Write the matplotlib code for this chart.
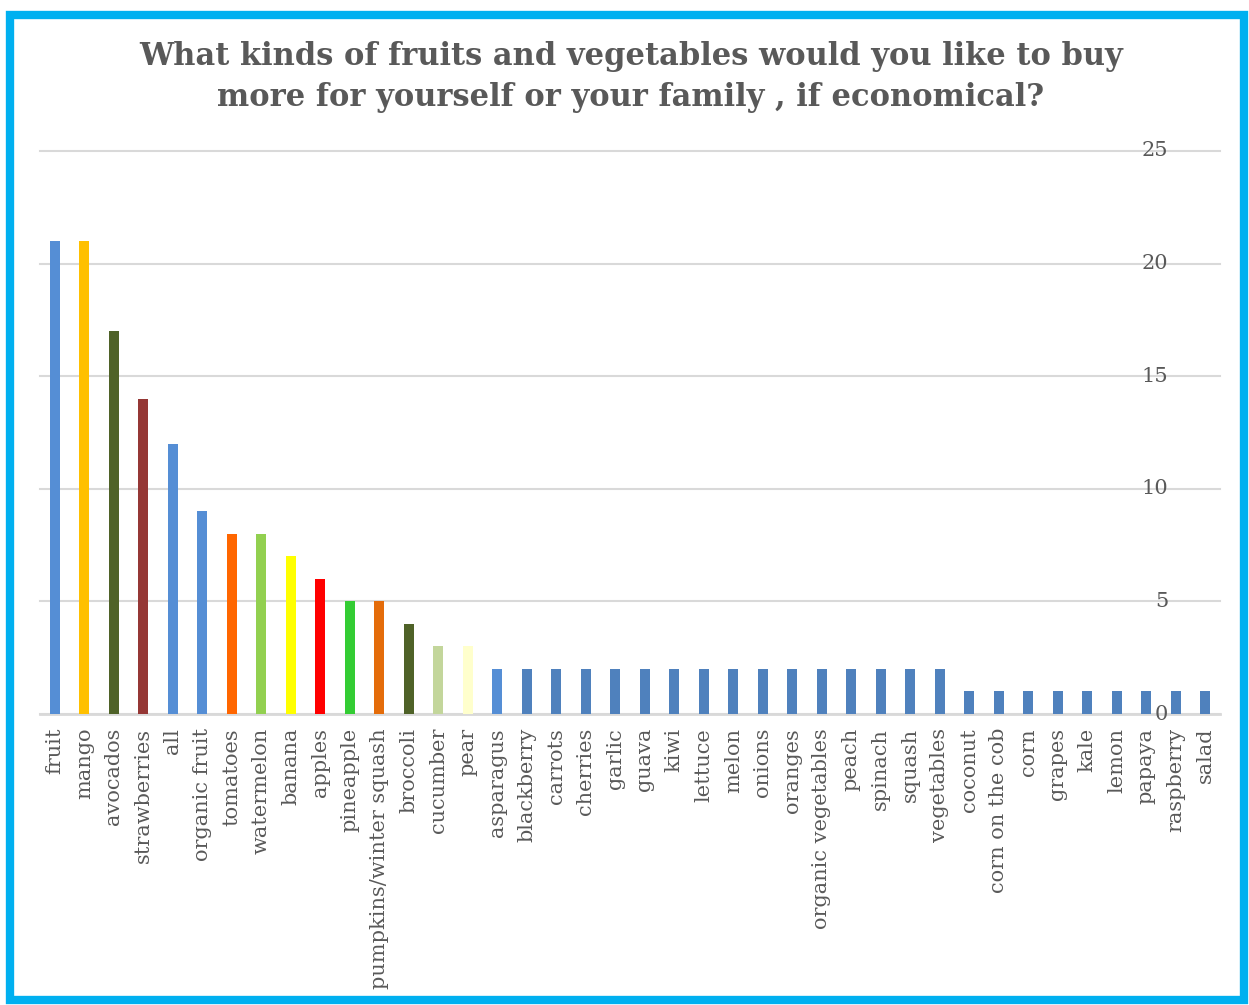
import matplotlib.pyplot as plt
from matplotlib.patches import Rectangle

items = ['fruit', 'mango', 'avocados', 'strawberries', 'all', 'organic fruit',
         'tomatoes', 'watermelon', 'banana', 'apples', 'pineapple',
         'pumpkins/winter squash', 'broccoli', 'cucumber', 'pear', 'asparagus',
         'blackberry', 'carrots', 'cherries', 'garlic', 'guava', 'kiwi',
         'lettuce', 'melon', 'onions', 'oranges', 'organic vegetables', 'peach',
         'spinach', 'squash', 'vegetables', 'coconut', 'corn on the cob', 'corn',
         'grapes', 'kale', 'lemon', 'papaya', 'raspberry', 'salad']
counts = [21, 21, 17, 14, 12, 9, 8, 8, 7, 6, 5, 5, 4, 3, 3, 2,
          2, 2, 2, 2, 2, 2, 2, 2, 2, 2, 2, 2, 2, 2, 2,
          1, 1, 1, 1, 1, 1, 1, 1, 1]
colors = ['#558ED5', '#FFC000', '#4F6228', '#953735', '#558ED5', '#558ED5',
          '#FF6600', '#92D050', '#FFFF00', '#FF0000', '#33CC33', '#E46C0A',
          '#4F6228', '#C3D69B', '#FFFFCC', '#558ED5'] + ['#4F81BD'] * 24
yticks = [0, 5, 10, 15, 20, 25]

text_col = '#595959'
grid_col = '#D9D9D9'

fig = plt.figure(figsize=(12.49, 10.05), dpi=100)
ax = fig.add_axes([40 / 1249, 1 - 714 / 1005, 1180 / 1249, 563 / 1005])

x = range(len(items))
ax.bar(x, counts, width=0.35, color=colors, zorder=3)

ax.set_xlim(-0.5, len(items) - 0.5)
ax.set_ylim(0, 25)
ax.set_yticks(yticks)
ax.set_yticklabels([])
ax.tick_params(axis='y', length=0)

# value labels sit inside the plot, near the right end of the gridlines
for v in yticks:
    ax.text(0.956, v, str(v), transform=ax.get_yaxis_transform(),
            ha='right', va='center', fontsize=15, color=text_col,
            fontfamily='DejaVu Serif', zorder=5)

ax.set_xticks(list(x))
ax.set_xticklabels(items, rotation=90, fontsize=15, color=text_col,
                   fontfamily='DejaVu Serif')
ax.tick_params(axis='x', length=0, pad=10)

ax.grid(axis='y', color=grid_col, linewidth=1.5, zorder=0)
for gl in ax.yaxis.get_gridlines():
    gl.set_clip_on(False)
ax.set_axisbelow(True)
for side in ['top', 'right', 'left']:
    ax.spines[side].set_visible(False)
ax.spines['bottom'].set_color(grid_col)
ax.spines['bottom'].set_linewidth(2)

fig.text(0.505, 1 - 77 / 1005,
         'What kinds of fruits and vegetables would you like to buy\n'
         'more for yourself or your family , if economical?',
         ha='center', va='center', fontsize=22, fontweight='bold',
         color=text_col, fontfamily='DejaVu Serif', linespacing=1.45)

# blue frame round the chart
fig.patches.append(Rectangle((10 / 1249, 5 / 1005), 1234 / 1249, 985 / 1005,
                             transform=fig.transFigure, fill=False,
                             edgecolor='#00B0F0', linewidth=6))

fig.savefig('out.png', dpi=100)
